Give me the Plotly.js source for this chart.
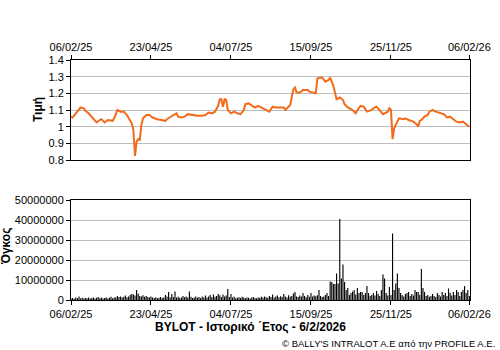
<!DOCTYPE html>
<html>
<head>
<meta charset="utf-8">
<script src="https://cdn.plot.ly/plotly-3.0.1.min.js"></script>
<style>html,body{margin:0;padding:0;background:#fff;}#chart{width:500px;height:350px;}</style>
</head>
<body>
<div id="chart"></div>
<script>
// Trading-day index of each price reading
const priceDays = [0,1,3,6,8,9,11,13,15,16,18,19,21,22,23,26,27,29,30,31,33,35,37,38,39,40,41,42,43,44,45,47,49,51,54,56,59,60,62,64,66,67,69,71,73,76,78,79,82,84,86,88,90,92,93,94,95,96,97,98,100,102,104,106,108,109,111,112,115,117,119,121,123,124,126,128,131,133,134,136,137,139,140,141,143,145,148,149,152,153,154,157,159,161,162,164,165,166,168,170,171,173,176,178,179,181,183,185,188,189,191,193,195,196,198,199,200,201,202,204,205,208,209,211,214,216,217,218,219,221,223,224,226,228,230,233,235,237,239,241,243,245,247,248,249];
const price = [1.06,1.055,1.08,1.115,1.11,1.095,1.08,1.06,1.04,1.025,1.04,1.045,1.025,1.035,1.04,1.035,1.05,1.10,1.095,1.09,1.09,1.07,1.035,1.02,0.98,0.825,0.91,0.925,0.92,1.01,1.05,1.07,1.07,1.055,1.045,1.04,1.035,1.045,1.06,1.07,1.08,1.06,1.055,1.06,1.075,1.07,1.07,1.065,1.065,1.07,1.085,1.08,1.09,1.125,1.165,1.165,1.12,1.165,1.16,1.10,1.08,1.09,1.08,1.075,1.10,1.135,1.14,1.135,1.115,1.125,1.115,1.11,1.10,1.09,1.12,1.115,1.115,1.115,1.10,1.12,1.13,1.225,1.235,1.205,1.205,1.22,1.22,1.21,1.205,1.20,1.29,1.295,1.27,1.28,1.295,1.245,1.205,1.165,1.175,1.16,1.135,1.115,1.10,1.08,1.10,1.125,1.12,1.09,1.10,1.11,1.12,1.10,1.075,1.08,1.09,1.11,1.10,0.925,0.99,1.03,1.05,1.045,1.05,1.04,1.03,1.015,1.00,1.035,1.04,1.06,1.07,1.09,1.10,1.09,1.085,1.075,1.055,1.06,1.045,1.03,1.025,1.03,1.015,1.005,1.00];

// Daily volume (millions of shares), trading days 0..249
const volume = [
0.8,1.0,0.6,1.2,0.9,1.7,0.7,1.1,0.8,1.0,
0.9,1.3,0.7,1.0,1.2,0.8,1.1,1.5,0.9,1.2,
0.7,1.0,1.3,0.8,1.1,1.6,0.9,1.2,1.4,2.0,
1.5,1.8,1.2,1.6,2.2,1.4,1.8,2.5,3.0,2.8,
2.2,5.0,3.2,2.0,1.8,2.4,1.6,2.0,1.5,1.3,
1.8,1.2,1.0,1.4,0.9,1.1,1.5,1.0,1.3,2.5,
1.8,4.0,1.2,3.0,1.5,4.3,1.3,1.6,1.0,1.2,
2.0,1.4,1.8,1.2,4.3,1.6,1.0,1.3,1.8,1.1,
1.5,1.0,1.7,1.3,2.2,1.2,1.8,2.5,1.4,2.7,
1.6,2.0,3.0,2.4,1.5,2.8,1.8,2.2,5.5,1.5,
3.0,1.2,1.6,0.9,1.1,1.4,1.0,1.6,1.2,0.9,
1.3,1.1,0.8,1.2,1.5,1.0,0.9,1.3,1.1,1.6,
1.2,1.8,1.4,1.1,2.0,1.5,2.7,1.3,1.7,2.2,
1.4,1.9,1.5,3.0,1.8,1.3,2.4,1.6,2.0,3.3,
4.0,1.8,1.5,2.2,1.7,3.5,2.0,1.4,2.5,1.6,
3.5,1.8,2.2,1.9,2.4,5.0,2.0,1.5,1.8,2.5,
3.5,2.0,9.2,9.0,8.0,8.0,13.3,8.3,40.5,10.8,
17.8,9.0,5.0,6.0,2.5,3.5,4.3,5.0,2.8,6.0,
3.5,4.0,4.0,2.5,3.5,7.0,3.5,2.0,2.5,3.5,
2.2,4.5,3.0,2.0,5.0,12.8,10.7,3.5,2.2,6.5,
2.5,33.3,5.0,8.3,13.3,6.0,3.5,2.5,1.8,3.0,
3.5,4.0,2.0,3.0,2.2,5.0,4.0,4.0,2.5,15.5,
6.0,4.0,2.0,2.5,1.6,2.0,3.0,2.0,1.5,3.5,
2.5,1.8,4.0,2.5,3.5,2.0,5.7,3.5,2.2,4.0,
2.5,5.0,4.0,2.0,4.0,5.0,7.0,3.5,5.0,2.0];
const volumeDays = volume.map((_, i) => i);

const tickDays = [0,50,100,150,200,249];
const tickLabels = ["06/02/25","23/04/25","04/07/25","15/09/25","25/11/25","06/02/26"];
const priceTicks = [0.8,0.9,1.0,1.1,1.2,1.3,1.4];
const priceTickLabels = ["0.8","0.9","1","1.1","1.2","1.3","1.4"];
const volTicks = [0,10,20,30,40,50];
const volTickLabels = ["0","10000000","20000000","30000000","40000000","50000000"];

const FONT = "Liberation Sans, Arial, sans-serif";
const plotL = 71, plotW = 399;
const px = p => (p - plotL) / plotW;

const traces = [
  {x: priceDays, y: price, type: 'scatter', mode: 'lines',
   line: {color: '#F26B1A', width: 2}, xaxis: 'x', yaxis: 'y', hoverinfo: 'none'},
  {x: volumeDays, y: volume, type: 'bar', width: 0.7,
   marker: {color: '#000000', line: {width: 0}}, xaxis: 'x2', yaxis: 'y2', hoverinfo: 'none'}
];

const axCommon = {
  showline: true, linecolor: '#000', linewidth: 1, mirror: true,
  ticks: 'outside', ticklen: 4, tickcolor: '#000', tickwidth: 1,
  tickfont: {family: FONT, size: 11, color: '#000'}, zeroline: false
};

const layout = {
  width: 500, height: 350,
  margin: {l: 71, r: 30, t: 60, b: 50},
  paper_bgcolor: '#fff', plot_bgcolor: '#fff',
  showlegend: false,
  xaxis: Object.assign({}, axCommon, {
    domain: [0, 1], range: [0, 249.4], side: 'top', anchor: 'y',
    tickvals: tickDays, ticktext: tickLabels, showgrid: false
  }),
  yaxis: Object.assign({}, axCommon, {
    domain: [140/240, 1], range: [0.8, 1.4], anchor: 'x',
    tickvals: priceTicks, ticktext: priceTickLabels,
    showgrid: true, gridcolor: '#BEBEBE', gridwidth: 1
  }),
  xaxis2: Object.assign({}, axCommon, {
    domain: [0, 1], range: [0, 249.4], side: 'bottom', anchor: 'y2',
    tickvals: tickDays, ticktext: tickLabels, showgrid: false
  }),
  yaxis2: Object.assign({}, axCommon, {
    domain: [0, 100/240], range: [0, 50], anchor: 'x2',
    tickvals: volTicks, ticktext: volTickLabels,
    showgrid: true, gridcolor: '#BEBEBE', gridwidth: 1
  }),
  annotations: [
    {text: '<b>Τιμή</b>', xref: 'paper', yref: 'paper', x: px(38), y: (300-110)/240,
     textangle: -90, showarrow: false, xanchor: 'center', yanchor: 'middle',
     font: {family: FONT, size: 12, color: '#000'}},
    {text: '<b>Όγκος</b>', xref: 'paper', yref: 'paper', x: px(6), y: (300-247)/240,
     textangle: -90, showarrow: false, xanchor: 'center', yanchor: 'middle',
     font: {family: FONT, size: 12, color: '#000'}},
    {text: '<b>BYLOT - Ιστορικό ΄Ετος - 6/2/2026</b>', xref: 'paper', yref: 'paper',
     x: px(250), y: (300-327)/240, showarrow: false, xanchor: 'center', yanchor: 'middle',
     font: {family: FONT, size: 12, color: '#000'}},
    {text: '© BALLY\'S INTRALOT A.E από την PROFILE A.E.', xref: 'paper', yref: 'paper',
     x: px(497), y: (300-343)/240, showarrow: false, xanchor: 'right', yanchor: 'middle',
     font: {family: FONT, size: 9.5, color: '#000'}}
  ]
};

Plotly.newPlot('chart', traces, layout, {staticPlot: true, displayModeBar: false});
</script>
</body>
</html>
